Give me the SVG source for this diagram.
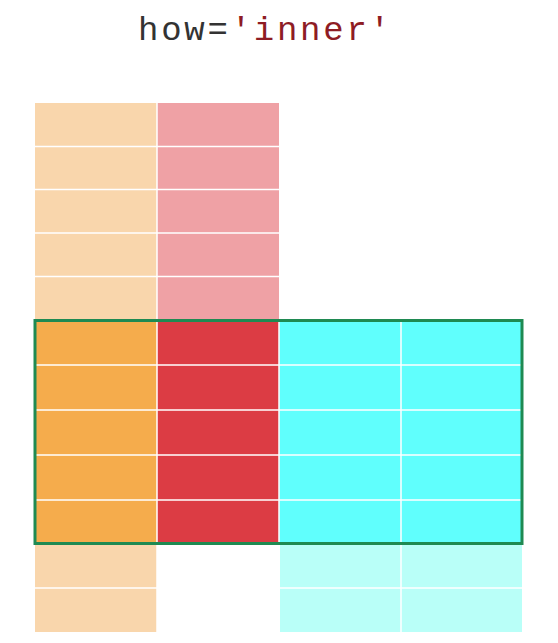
<svg xmlns="http://www.w3.org/2000/svg" width="558" height="643" viewBox="0 0 558 643">
<style>
.lo{fill:#f9d6ac}.pk{fill:#efa1a5}.or{fill:#f5ac4c}.rd{fill:#dc3c44}.cy{fill:#60fffd}.lc{fill:#b9fff8}
.grid{stroke:#ffffff;stroke-width:1.5;fill:none}
.title{font-family:"Liberation Mono","Courier New",monospace;font-size:34px}
</style>
<rect width="558" height="643" fill="#ffffff"/>
<text class="title" x="138" y="40" textLength="252" lengthAdjust="spacing"><tspan fill="#333333">how=</tspan><tspan fill="#8e1c24">'inner'</tspan></text>
<g id="left-table">
<rect class="lo" x="35" y="103" width="122" height="217"/>
<rect class="pk" x="157" y="103" width="122" height="217"/>
<rect class="or" x="35" y="320" width="122" height="224"/>
<rect class="rd" x="157" y="320" width="122" height="224"/>
<rect class="lo" x="35" y="544" width="122" height="88"/>
</g>
<g id="right-table">
<rect class="cy" x="279" y="320" width="243" height="224"/>
<rect class="lc" x="280" y="544" width="242" height="88"/>
</g>
<g id="grid-lines" class="grid">
<path d="M35 146.5H279M35 189.5H279M35 233H279M35 276.5H279"/>
<path d="M35 365H522M35 410H522M35 455H522M35 500H522"/>
<path d="M35 588H157M280 588H522"/>
<path d="M157 103V544M157 544V632M401 320V632M279 320V544"/>
</g>
<g id="inner-result">
<rect x="35" y="320.5" width="487" height="223" fill="none" stroke="#1f8a52" stroke-width="3"/>
</g>
</svg>
